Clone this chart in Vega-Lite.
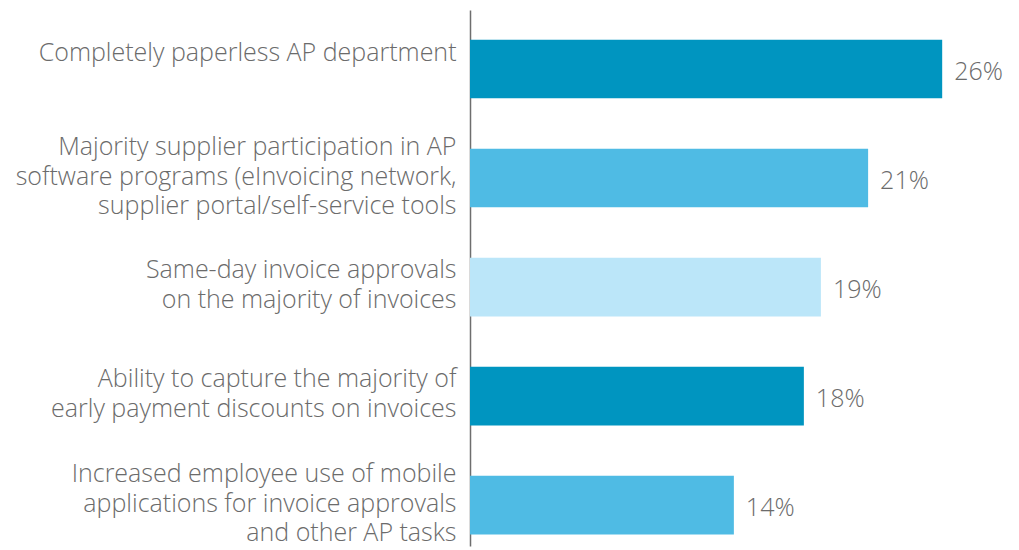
{
  "$schema": "https://vega.github.io/schema/vega-lite/v6.json",
  "width": 537,
  "height": 536,
  "autosize": "none",
  "padding": {"left": 470, "top": 10, "right": 12, "bottom": 4},
  "background": "white",
  "config": {"view": {"stroke": null}, "font": "Open Sans"},
  "data": {
    "values": [
      {"item": "Completely paperless AP department", "value": 25.5, "label": "26%", "shade": "dark"},
      {"item": "Majority supplier participation in AP|software programs (eInvoicing network,|supplier portal/self-service tools", "value": 21.5, "label": "21%", "shade": "medium"},
      {"item": "Same-day invoice approvals|on the majority of invoices", "value": 18.95, "label": "19%", "shade": "light"},
      {"item": "Ability to capture the majority of|early payment discounts on invoices", "value": 18.03, "label": "18%", "shade": "dark"},
      {"item": "Increased employee use of mobile|applications for invoice approvals|and other AP tasks", "value": 14.25, "label": "14%", "shade": "medium"}
    ]
  },
  "encoding": {
    "y": {
      "field": "item",
      "type": "nominal",
      "sort": null,
      "scale": {"paddingInner": 0.463, "paddingOuter": 0.19, "align": 0.72},
      "axis": {
        "title": null,
        "labelExpr": "split(datum.label, '|')",
        "ticks": false,
        "domainColor": "#6e6e6e",
        "domainWidth": 1.5,
        "labelPadding": 14,
        "labelFont": "Open Sans",
        "labelFontWeight": 300,
        "labelFontSize": 25,
        "labelColor": "#6b6b6b",
        "labelLineHeight": 29.5,
        "labelLimit": 470,
        "labelAlign": "right",
        "labelBaseline": "middle",
        "labelOffset": {
          "condition": [
            {"test": "length(split(datum.value, '|')) == 3", "value": -31},
            {"test": "length(split(datum.value, '|')) == 2", "value": -17}
          ],
          "value": -16
        }
      }
    },
    "x": {
      "field": "value",
      "type": "quantitative",
      "scale": {"domain": [0, 29], "nice": false},
      "axis": null
    }
  },
  "layer": [
    {
      "mark": {"type": "bar"},
      "encoding": {
        "color": {
          "field": "shade",
          "type": "nominal",
          "scale": {"domain": ["dark", "medium", "light"], "range": ["#0095c0", "#4fbbe4", "#bbe6f9"]},
          "legend": null
        }
      }
    },
    {
      "mark": {"type": "text", "align": "left", "baseline": "middle", "dx": 12, "dy": 3, "font": "Open Sans", "fontWeight": 300, "fontSize": 25, "color": "#6b6b6b"},
      "encoding": {"text": {"field": "label"}}
    }
  ]
}
